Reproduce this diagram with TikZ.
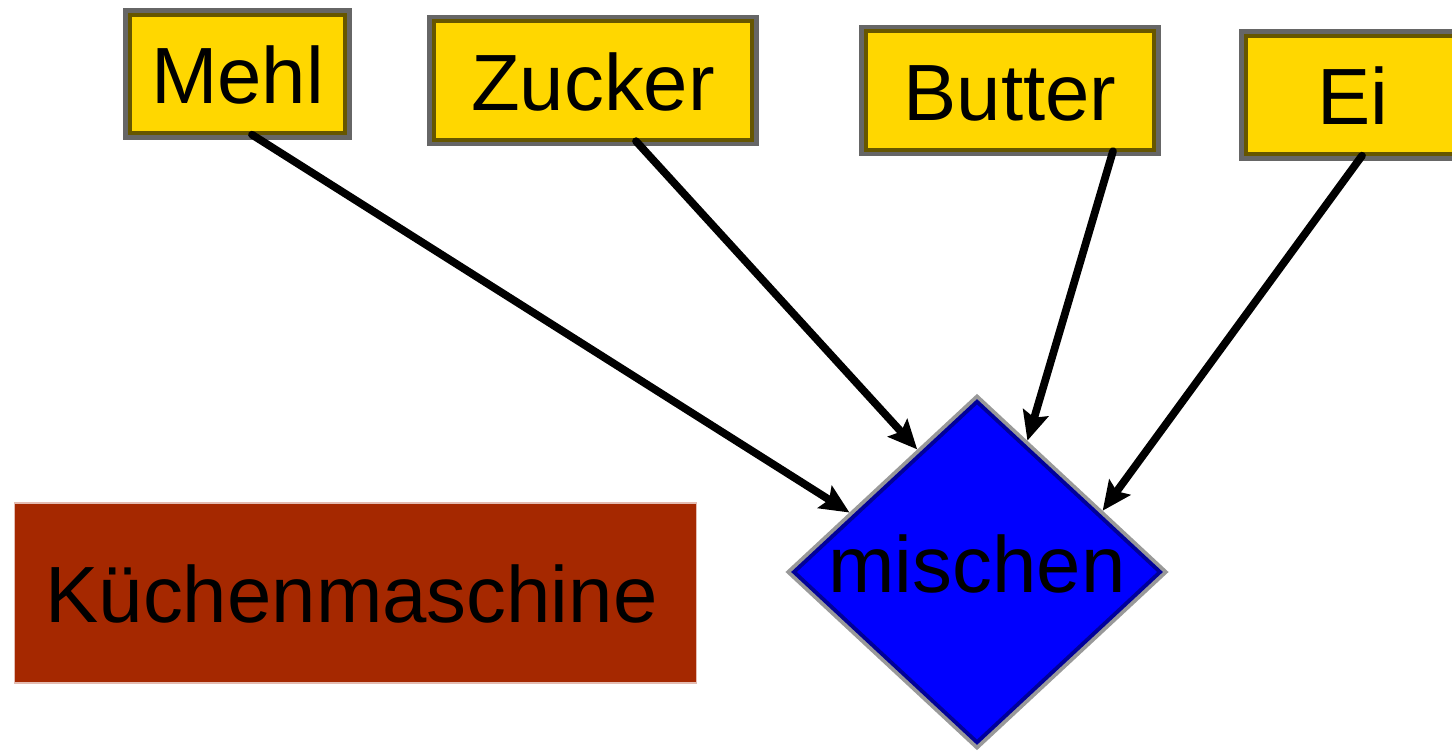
\documentclass[tikz,border=0pt]{standalone}
\usepackage{fontspec}
\setmainfont{Liberation Sans}
\usetikzlibrary{arrows.meta}
\usetikzlibrary{shapes.geometric}
\definecolor{ingredientfill}{RGB}{255,215,0}
\definecolor{machinefill}{RGB}{165,40,0}
\definecolor{machineline}{RGB}{228,188,178}
\tikzset{word/.style={font=\fontsize{45.4}{54}\selectfont,
         text height=34pt, text depth=0pt, inner sep=0pt},
         ingredient/.style={word, rectangle, fill=ingredientfill,
         draw=black, draw opacity=0.6, line width=4.8pt,
         minimum height=2.46cm},
         machine/.style={word, rectangle, fill=machinefill,
         draw=machineline, line width=0.6pt,
         minimum width=13.66cm, minimum height=3.6cm},
         mixer/.style={diamond, fill=blue, draw=black, draw opacity=0.4,
         line width=4.4pt, inner sep=0pt,
         minimum width=7.5cm, minimum height=6.98cm},
         feed/.style={-{Stealth[length=0.58cm, width=0.52cm, inset=0.1cm]},
         line width=4.4pt, line cap=round}}

\begin{document}
\begin{tikzpicture}[x=0.02cm, y=-0.02cm]
\useasboundingbox (0,0) rectangle (1452,756);

\node[ingredient, minimum width=4.4cm] (mehl) at (237.5,74) {Mehl};
\node[ingredient, minimum width=6.46cm] (zucker) at (593,80.5) {Zucker};
\node[ingredient, minimum width=5.86cm] (butter) at (1010,90.5) {Butter};
\node[ingredient, minimum width=4.38cm] (ei) at (1353,95) {Ei};

\node[machine, text width=12.6cm, align=left] (kuechenmaschine) at (355.5,593) {\hspace{0.1cm}Küchenmaschine};

\node[mixer] (mischen) at (977,572) {};
\node[word, anchor=base] (mischentext) at ([yshift=-0.4cm]mischen.center) {mischen};

\draw[feed] ([xshift=0.29cm, yshift=0.1cm]mehl.south) -- (mischen.155);
\draw[feed] ([xshift=0.86cm, yshift=0.1cm]zucker.south) -- (mischen.116);
\draw[feed] ([xshift=2.06cm, yshift=0.1cm]butter.south) -- (mischen.69);
\draw[feed] ([xshift=0.18cm, yshift=0.1cm]ei.south) -- (mischen.26);

\end{tikzpicture}
\end{document}
